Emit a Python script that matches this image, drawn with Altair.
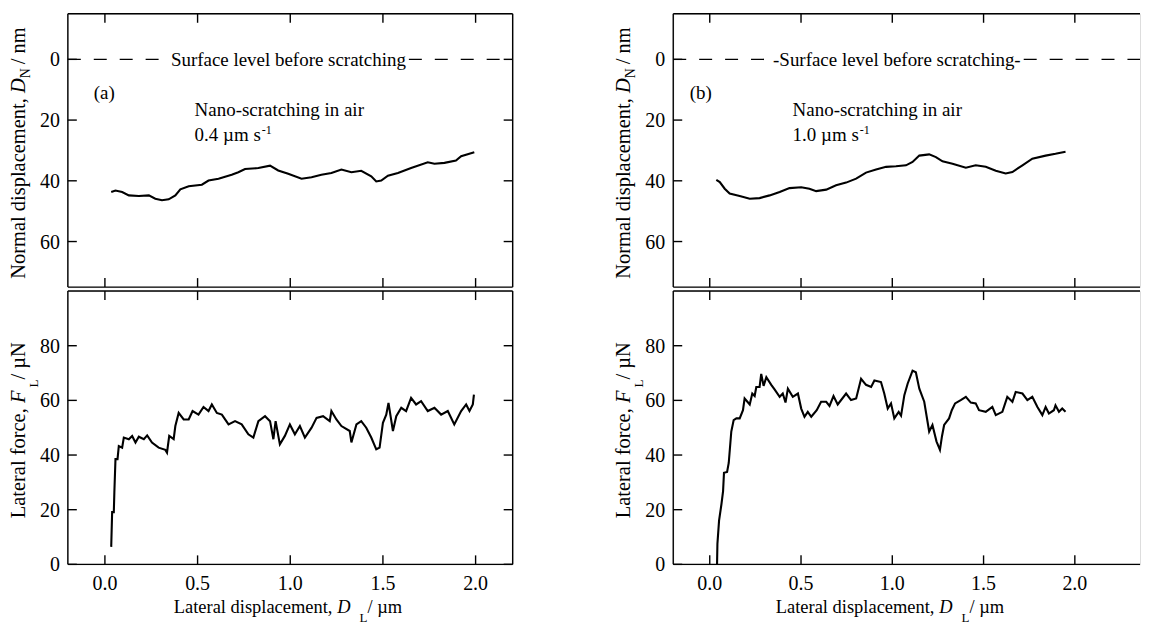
import altair as alt
import pandas as pd

FONT = "Liberation Serif"

# ---------------- data ----------------
a_dn_x = [0.034, 0.057, 0.093, 0.129, 0.183, 0.237, 0.272, 0.308, 0.344, 0.38, 0.407, 0.452, 0.523, 0.559,
          0.613, 0.684, 0.72, 0.756, 0.828, 0.891, 0.935, 0.989, 1.061, 1.115, 1.168, 1.222, 1.276, 1.33,
          1.383, 1.437, 1.464, 1.491, 1.527, 1.581, 1.652, 1.742, 1.778, 1.832, 1.894, 1.922, 1.993]
a_dn_y = [43.7, 43.2, 43.7, 44.8, 45.0, 44.8, 45.9, 46.4, 46.1, 44.8, 42.8, 41.8, 41.3, 39.9,
          39.3, 38.0, 37.2, 36.1, 35.8, 35.0, 36.6, 37.7, 39.3, 38.8, 38.0, 37.4, 36.3, 37.2,
          36.7, 38.5, 40.2, 39.9, 38.3, 37.4, 35.8, 33.9, 34.4, 34.1, 33.3, 31.9, 30.6]

a_fl_x = [0.034, 0.039, 0.048, 0.051, 0.057, 0.068, 0.075, 0.093, 0.102, 0.129, 0.147, 0.165, 0.183, 0.21,
          0.228, 0.254, 0.29, 0.326, 0.335, 0.347, 0.371, 0.38, 0.398, 0.425, 0.452, 0.473, 0.505, 0.532,
          0.559, 0.577, 0.604, 0.631, 0.667, 0.702, 0.738, 0.774, 0.801, 0.828, 0.864, 0.891, 0.909, 0.921,
          0.944, 0.971, 0.998, 1.025, 1.052, 1.079, 1.115, 1.142, 1.177, 1.213, 1.222, 1.249, 1.276, 1.321,
          1.33, 1.357, 1.383, 1.41, 1.437, 1.464, 1.482, 1.5, 1.518, 1.53, 1.554, 1.572, 1.599, 1.625,
          1.652, 1.679, 1.706, 1.742, 1.778, 1.814, 1.85, 1.885, 1.922, 1.949, 1.967, 1.985, 1.991]
a_fl_y = [6.4, 19.1, 19.1, 26.4, 38.5, 38.5, 43.3, 42.7, 46.4, 45.8, 47.0, 44.6, 46.7, 45.8,
          47.2, 44.6, 42.7, 41.9, 40.9, 47.0, 45.8, 50.6, 55.4, 53.0, 53.0, 56.1, 54.8, 57.6,
          56.1, 58.5, 55.4, 54.8, 51.2, 52.4, 51.2, 47.6, 46.4, 52.4, 54.2, 52.4, 45.8, 52.4,
          43.9, 47.0, 51.2, 47.6, 50.6, 46.4, 50.0, 53.6, 54.2, 52.4, 56.1, 53.0, 50.6, 48.8,
          44.6, 51.2, 52.4, 50.0, 46.4, 42.1, 42.7, 51.8, 54.8, 59.1, 48.8, 54.2, 57.3, 56.1,
          60.9, 58.5, 59.7, 56.1, 57.3, 54.8, 56.1, 51.2, 56.1, 58.5, 56.1, 58.5, 62.1]

b_dn_x = [0.036, 0.055, 0.082, 0.109, 0.164, 0.219, 0.273, 0.328, 0.383, 0.437, 0.501, 0.546, 0.583, 0.638,
          0.692, 0.747, 0.802, 0.856, 0.911, 0.966, 1.02, 1.075, 1.111, 1.148, 1.202, 1.239, 1.275, 1.33,
          1.403, 1.457, 1.512, 1.567, 1.621, 1.658, 1.713, 1.767, 1.84, 1.894, 1.949]
b_dn_y = [39.7, 40.4, 42.6, 44.2, 45.0, 45.9, 45.7, 44.8, 43.7, 42.4, 42.1, 42.6, 43.4, 42.9,
          41.5, 40.6, 39.3, 37.3, 36.3, 35.4, 35.2, 34.9, 33.8, 31.7, 31.3, 32.2, 33.6, 34.4,
          35.7, 34.9, 35.4, 36.7, 37.6, 37.1, 34.9, 32.7, 31.7, 31.1, 30.4]

b_fl_x = [0.040, 0.042, 0.051, 0.064, 0.073, 0.078, 0.095, 0.104, 0.118, 0.131, 0.146, 0.164, 0.182, 0.191,
          0.219, 0.233, 0.246, 0.255, 0.273, 0.282, 0.295, 0.31, 0.337, 0.355, 0.383, 0.40, 0.415, 0.428,
          0.455, 0.483, 0.501, 0.519, 0.537, 0.556, 0.586, 0.61, 0.638, 0.656, 0.678, 0.701, 0.747, 0.774,
          0.802, 0.829, 0.856, 0.884, 0.902, 0.938, 0.956, 0.975, 0.993, 1.011, 1.035, 1.048, 1.066, 1.084,
          1.111, 1.129, 1.148, 1.175, 1.202, 1.22, 1.242, 1.261, 1.272, 1.284, 1.311, 1.326, 1.344, 1.375,
          1.403, 1.43, 1.457, 1.475, 1.512, 1.548, 1.567, 1.603, 1.63, 1.658, 1.676, 1.713, 1.74, 1.767,
          1.795, 1.822, 1.84, 1.858, 1.885, 1.894, 1.913, 1.931, 1.949]
b_fl_y = [0.0, 7.5, 16.0, 22.0, 26.8, 33.5, 33.8, 37.1, 48.6, 52.8, 53.4, 53.4, 56.4, 60.7,
          58.5, 62.5, 61.6, 64.9, 64.9, 69.7, 65.3, 68.5, 65.7, 64.0, 61.3, 62.5, 59.2, 64.3,
          61.3, 62.5, 57.0, 54.0, 55.8, 54.0, 56.4, 59.5, 59.5, 58.0, 61.6, 58.5, 62.5, 60.1,
          60.7, 67.9, 65.7, 64.9, 67.3, 66.7, 62.5, 57.0, 58.9, 53.4, 55.8, 54.4, 61.9, 66.1,
          70.9, 70.3, 64.3, 59.5, 48.6, 51.0, 45.0, 41.9, 46.8, 51.0, 53.4, 56.4, 58.9, 60.1,
          61.3, 59.2, 58.9, 56.4, 55.8, 57.6, 54.6, 55.8, 61.3, 59.5, 63.1, 62.5, 60.1, 61.3,
          57.6, 54.6, 57.6, 55.2, 56.4, 58.2, 55.8, 57.0, 55.8]

x_ticks = [0.0, 0.5, 1.0, 1.5, 2.0]
x_tick_labels = ["0.0", "0.5", "1.0", "1.5", "2.0"]
dn_ticks = [0, 20, 40, 60]
dn_tick_labels = ["0", "20", "40", "60"]
fl_ticks = [0, 20, 40, 60, 80]
fl_tick_labels = ["0", "20", "40", "60", "80"]

surface_label_a = "Surface level before scratching"
surface_label_b = "-Surface level before scratching-"
panel_labels = ["(a)", "(b)"]
cond_line1 = "Nano-scratching in air"
speed_a = "0.4 \u00b5m s"
speed_b = "1.0 \u00b5m s"
speed_sup = "-1"

# ---------------- helpers ----------------
W_REG = {' ': 0.25, 'a': 0.444, 'b': 0.5, 'c': 0.444, 'd': 0.5, 'e': 0.444, 'f': 0.333, 'g': 0.5,
         'h': 0.5, 'i': 0.278, 'l': 0.278, 'm': 0.778, 'n': 0.5, 'o': 0.5, 'p': 0.5, 'r': 0.333,
         's': 0.389, 't': 0.278, 'u': 0.5, 'v': 0.5, ',': 0.25, '.': 0.25, '/': 0.278, '-': 0.333,
         'N': 0.722, 'L': 0.611, 'D': 0.722, 'F': 0.556, '\u00b5': 0.576}
W_IT = {'D': 0.722, 'F': 0.611}


def tw(s, size, italic=False):
    tbl = W_IT if italic else {}
    return sum(tbl.get(c, W_REG.get(c, 0.5)) for c in s) * size


def layout_pieces(pieces):
    """pieces: (text, size, italic, shift, gap_before) -> list with offsets, total width"""
    out, pos = [], 0.0
    for text, size, italic, shift, gap in pieces:
        pos += gap
        out.append((text, size, italic, shift, pos))
        pos += tw(text, size, italic)
    return out, pos


TL = 9          # tick length
FW = 1.4        # frame stroke width
LFS = 20        # tick label font size
one = pd.DataFrame({"k": [0]})


def frame_and_ticks(W, H, xscale, yscale, yticks, ylabels, right_side, show_xlabels):
    layers = []
    rule = alt.Chart(one).mark_rule(color="black", strokeWidth=FW)
    layers.append(rule.encode(x=alt.value(0), x2=alt.value(W), y=alt.value(0)))
    layers.append(rule.encode(x=alt.value(0), x2=alt.value(W), y=alt.value(H)))
    layers.append(rule.encode(x=alt.value(0), y=alt.value(0), y2=alt.value(H)))
    if right_side:
        layers.append(rule.encode(x=alt.value(W), y=alt.value(0), y2=alt.value(H)))
    xdf = pd.DataFrame({"t": x_ticks, "lab": x_tick_labels})
    txd = alt.Chart(xdf).mark_rule(color="black", strokeWidth=FW)
    layers.append(txd.encode(x=alt.X("t:Q", scale=xscale, axis=None), y=alt.value(0), y2=alt.value(TL)))
    layers.append(txd.encode(x=alt.X("t:Q", scale=xscale, axis=None), y=alt.value(H), y2=alt.value(H - TL)))
    ydf = pd.DataFrame({"t": yticks, "lab": ylabels})
    tyd = alt.Chart(ydf).mark_rule(color="black", strokeWidth=FW)
    layers.append(tyd.encode(y=alt.Y("t:Q", scale=yscale, axis=None), x=alt.value(0), x2=alt.value(TL)))
    if right_side:
        layers.append(tyd.encode(y=alt.Y("t:Q", scale=yscale, axis=None), x=alt.value(W), x2=alt.value(W - TL)))
    # tick labels
    layers.append(alt.Chart(ydf).mark_text(font=FONT, fontSize=LFS, align="right", baseline="middle",
                                           color="black", dy=1).encode(
        y=alt.Y("t:Q", scale=yscale, axis=None), x=alt.value(-8), text="lab:N"))
    if show_xlabels:
        layers.append(alt.Chart(xdf).mark_text(font=FONT, fontSize=LFS, align="center", baseline="alphabetic",
                                               color="black").encode(
            x=alt.X("t:Q", scale=xscale, axis=None), y=alt.value(H + 26), text="lab:N"))
    return layers


def ytitle_layers(pieces, H, xbase):
    items, total = layout_pieces(pieces)
    layers = []
    for text, size, italic, shift, off in items:
        kw = dict(text=text, font=FONT, fontSize=size, angle=270, align="left", baseline="alphabetic",
                  color="black", dx=off - total / 2, dy=shift)
        if italic:
            kw["fontStyle"] = "italic"
        layers.append(alt.Chart(one).mark_text(**kw).encode(x=alt.value(xbase), y=alt.value(H / 2)))
    return layers


def htext_layers(pieces, xscale, yscale, xd, yd, center=True, ypix=None):
    items, total = layout_pieces(pieces)
    layers = []
    for text, size, italic, shift, off in items:
        kw = dict(text=text, font=FONT, fontSize=size, align="left", baseline="alphabetic",
                  color="black", dx=off - (total / 2 if center else 0), dy=shift)
        if italic:
            kw["fontStyle"] = "italic"
        enc = dict(x=alt.XDatum(xd, scale=xscale, axis=None))
        if ypix is not None:
            enc["y"] = alt.value(ypix)
        else:
            enc["y"] = alt.YDatum(yd, scale=yscale, axis=None)
        layers.append(alt.Chart(one).mark_text(**kw).encode(**enc))
    return layers


def build_column(dn_x, dn_y, fl_x, fl_y, xmax, W, Ht, Hb, right_side, surf_text, surf_x,
                 seg_left, seg_right, plabel, plabel_x, cond_x, speed_text):
    xscale = alt.Scale(domain=[-0.2, xmax], nice=False, zero=False)
    ys_dn = alt.Scale(domain=[-15, 75], nice=False, zero=False, reverse=True)
    ys_fl = alt.Scale(domain=[0, 100], nice=False, zero=False)

    # ---- top panel: normal displacement ----
    dn = pd.DataFrame({"x": dn_x, "y": dn_y})
    top_line = alt.Chart(dn).mark_line(color="black", strokeWidth=2.1).encode(
        x=alt.X("x:Q", scale=xscale, axis=None),
        y=alt.Y("y:Q", scale=ys_dn, axis=None))
    seg = pd.DataFrame({"x1": [seg_left[0], seg_right[0]], "x2": [seg_left[1], seg_right[1]], "y": [0, 0]})
    dash = alt.Chart(seg).mark_rule(color="black", strokeWidth=1.4, strokeDash=[13, 13]).encode(
        x=alt.X("x1:Q", scale=xscale, axis=None), x2="x2:Q", y=alt.Y("y:Q", scale=ys_dn, axis=None))
    surf = alt.Chart(one).mark_text(text=surf_text, font=FONT, fontSize=19, align="center",
                                    baseline="middle", color="black", dy=1).encode(
        x=alt.XDatum(surf_x, scale=xscale, axis=None), y=alt.YDatum(0, scale=ys_dn, axis=None))
    plab = alt.Chart(one).mark_text(text=plabel, font=FONT, fontSize=19, align="left",
                                    baseline="alphabetic", color="black").encode(
        x=alt.XDatum(plabel_x, scale=xscale, axis=None), y=alt.YDatum(13.1, scale=ys_dn, axis=None))
    cond = alt.Chart(one).mark_text(text=cond_line1, font=FONT, fontSize=19, align="left",
                                    baseline="alphabetic", color="black").encode(
        x=alt.XDatum(cond_x, scale=xscale, axis=None), y=alt.YDatum(18.7, scale=ys_dn, axis=None))
    speed = htext_layers([(speed_text, 19, False, 0, 0), (speed_sup, 12, False, -7, 1)],
                         xscale, ys_dn, cond_x, 26.9, center=False)
    ttl_top = ytitle_layers([("Normal displacement, ", 20.5, False, 0, 0), ("D", 20.5, True, 0, 0),
                             ("N", 14, False, 5, 0), (" / nm", 20.5, False, 0, 4)], Ht, -43)
    top = alt.layer(top_line, dash, surf, plab, cond, *speed, *ttl_top,
                    *frame_and_ticks(W, Ht, xscale, ys_dn, dn_ticks, dn_tick_labels, right_side, False)
                    ).properties(width=W, height=Ht)

    # ---- bottom panel: lateral force ----
    fl = pd.DataFrame({"x": fl_x, "y": fl_y})
    bot_line = alt.Chart(fl).mark_line(color="black", strokeWidth=2.1).encode(
        x=alt.X("x:Q", scale=xscale, axis=None),
        y=alt.Y("y:Q", scale=ys_fl, axis=None))
    ttl_bot = ytitle_layers([("Lateral force, ", 20.5, False, 0, 0), ("F", 20.5, True, 0, 0),
                             ("L", 13, False, 13, 3), (" / \u00b5N", 20.5, False, 0, 0)], Hb, -43)
    xt = htext_layers([("Lateral displacement, ", 18.5, False, 0, 0), ("D", 18.5, True, 0, 0),
                       ("L", 13, False, 9, 9), (" / \u00b5m", 18.5, False, 0, 0)],
                      xscale, ys_fl, 1.0, None, center=True, ypix=Hb + 49)
    bot = alt.layer(bot_line, *ttl_bot, *xt,
                    *frame_and_ticks(W, Hb, xscale, ys_fl, fl_ticks, fl_tick_labels, right_side, True)
                    ).properties(width=W, height=Hb)

    return alt.vconcat(top, bot, spacing=0)


left = build_column(a_dn_x, a_dn_y, a_fl_x, a_fl_y, 2.2, 446, 274, 274, True,
                    surface_label_a, 0.99, (-0.2, 0.335), (1.64, 2.2),
                    panel_labels[0], -0.06, 0.484, speed_a)
right = build_column(b_dn_x, b_dn_y, b_fl_x, b_fl_y, 2.357, 468, 274, 274, False,
                     surface_label_b, 1.025, (-0.2, 0.31), (1.72, 2.357),
                     panel_labels[1], -0.11, 0.454, speed_b)

chart = alt.hconcat(left, right, spacing=99).properties(
    padding={"left": 0, "top": 3, "right": 0, "bottom": 0}
).configure_view(stroke=None).configure(background="white")

chart.save("out.html", embed_options={"renderer": "svg", "actions": False})
